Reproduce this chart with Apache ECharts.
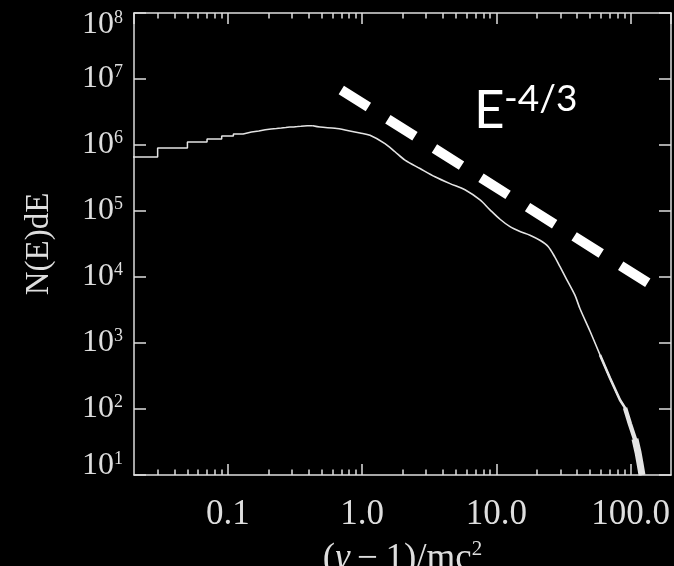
<!DOCTYPE html>
<html><head><meta charset="utf-8">
<script src="https://cdn.jsdelivr.net/npm/echarts@6/dist/echarts.min.js"></script>
<style>html,body{margin:0;padding:0;background:#000;}#c{width:674px;height:566px;}</style>
</head><body><div id="c"></div>
<script>
// ---- data ----
// low-energy histogram: bin left edges (last entry closes the final bin) and counts
const histEdges  = [0.01, 0.03, 0.05, 0.07, 0.09, 0.11, 0.13, 0.15, 0.17, 0.19, 0.21, 0.23, 0.25, 0.27, 0.29, 0.31, 0.33, 0.35, 0.37, 0.39, 0.41, 0.43];
const histValues = [6.6e5, 9.0e5, 1.11e6, 1.23e6, 1.37e6, 1.47e6, 1.57e6, 1.63e6, 1.70e6, 1.75e6, 1.78e6, 1.81e6, 1.84e6, 1.87e6, 1.88e6, 1.90e6, 1.92e6, 1.94e6, 1.95e6, 1.96e6, 1.96e6, 1.96e6];
// rest of the spectrum
const specX = [0.43, 0.486, 0.628, 0.746, 0.965, 1.145, 1.48, 1.758, 2.087, 2.70, 3.49, 4.52, 5.84, 7.56, 8.97, 10.65, 12.64, 15.0, 17.8, 21.1, 24.3, 27.3, 29.8, 33.6, 38.5, 42.0, 49.8, 59.2, 70.2, 83.4, 90.9, 99.0, 107.8, 113.6, 117.5, 121.6];
const specY = [1.96e6, 1.87e6, 1.79e6, 1.69e6, 1.52e6, 1.40e6, 1.05e6, 7.9e5, 5.9e5, 4.4e5, 3.3e5, 2.6e5, 2.1e5, 1.47e5, 1.04e5, 7.5e4, 5.8e4, 4.9e4, 4.3e4, 3.6e4, 2.9e4, 2.0e4, 1.43e4, 9.0e3, 5.3e3, 3.3e3, 1.52e3, 660, 295, 137, 104, 59, 35, 22, 15, 10];
// power-law guide  E^-4/3
const guideX = [0.7, 152];
const guideY = [6.8e6, 7.0e3];
// ticks
const xMajorTicks = [0.1, 1, 10, 100];
const xTickLabels = ['0.1', '1.0', '10.0', '100.0'];
const xMinorTicks = [0.03, 0.04, 0.05, 0.06, 0.07, 0.08, 0.09, 0.2, 0.3, 0.4, 0.5, 0.6, 0.7, 0.8, 0.9, 2, 3, 4, 5, 6, 7, 8, 9, 20, 30, 40, 50, 60, 70, 80, 90];
const yTickValues = [10, 100, 1e3, 1e4, 1e5, 1e6, 1e7, 1e8];
const yTickExps = ['1', '2', '3', '4', '5', '6', '7', '8'];
const xTitle = ['(', 'γ', '\u2009−\u20091)/mc', '2'];
const yTitle = 'N(E)dE';
const guideText = ['E', '-4/3'];

// ---- styling ----
const axisColor = '#dedede';
const curveColor = '#e4e4e4';
const serif = '"Liberation Serif", "Times New Roman", serif';
const sans = 'Lato, "Open Sans", sans-serif';
const axLine = {show: true, lineStyle: {color: axisColor, width: 1.5}};
const majTick = len => ({show: true, inside: true, length: len, lineStyle: {color: axisColor, width: 1.5}});

function near(a, b) { return Math.abs(Math.log10(a) - Math.log10(b)) < 1e-6; }

const xBase = {type: 'log', logBase: 10, min: 0.02, max: 200, splitNumber: 4, splitLine: {show: false}};
const yBase = {type: 'log', logBase: 10, min: 10, max: 1e8, splitNumber: 7, splitLine: {show: false}};

const ySup = {fontFamily: serif, fontSize: 18, color: axisColor, verticalAlign: 'middle', padding: [0, 0, 14, 0]};
const yBig = {fontFamily: serif, fontSize: 32, color: axisColor, verticalAlign: 'middle'};

const chart = echarts.init(document.getElementById('c'), null, {renderer: 'canvas'});
const spec = specX.map((x, i) => [x, specY[i]]);
const option = {
  backgroundColor: '#000',
  animation: false,
  grid: {left: 134, top: 13, right: 3, bottom: 91, containLabel: false, outerBoundsMode: 'none'},
  xAxis: [
    Object.assign({}, xBase, {
      position: 'bottom', axisLine: axLine, axisTick: majTick(11),
      axisLabel: {
        show: true, showMinLabel: false, showMaxLabel: false, margin: 22,
        color: axisColor, fontFamily: serif, fontSize: 35, lineHeight: 35,
        formatter: v => { const i = xMajorTicks.findIndex(t => near(t, v)); return i >= 0 ? xTickLabels[i] : ''; }
      },
      name: '{n|' + xTitle[0] + '}{i|' + xTitle[1] + '}{n|' + xTitle[2] + '}{s|' + xTitle[3] + '}',
      nameLocation: 'middle', nameGap: 64,
      nameTextStyle: {
        rich: {
          n: {fontFamily: serif, fontSize: 37, color: axisColor, lineHeight: 40},
          i: {fontFamily: serif, fontStyle: 'italic', fontSize: 37, color: axisColor, lineHeight: 40},
          s: {fontFamily: serif, fontSize: 21, color: axisColor, lineHeight: 40, verticalAlign: 'top'}
        }
      }
    }),
    Object.assign({}, xBase, {
      position: 'bottom', axisLine: {show: false},
      axisTick: Object.assign(majTick(5.5), {customValues: xMinorTicks}),
      axisLabel: {show: false}
    }),
    Object.assign({}, xBase, {
      position: 'top', axisLine: axLine, axisTick: majTick(11), axisLabel: {show: false}
    }),
    Object.assign({}, xBase, {
      position: 'top', axisLine: {show: false},
      axisTick: Object.assign(majTick(5.5), {customValues: xMinorTicks}),
      axisLabel: {show: false}
    })
  ],
  yAxis: [
    Object.assign({}, yBase, {
      position: 'left', axisLine: axLine, axisTick: majTick(12),
      axisLabel: {
        show: true, margin: 11,
        verticalAlignMaxLabel: 'top', verticalAlignMinLabel: 'bottom',
        formatter: v => {
          const i = yTickValues.findIndex(t => near(t, v));
          if (i < 0) return '';
          const sfx = i === yTickValues.length - 1 ? 'T' : (i === 0 ? 'B' : '');
          return '{b' + sfx + '|10}{s' + sfx + '|' + yTickExps[i] + '}';
        },
        rich: {
          b: Object.assign({}, yBig, {lineHeight: 32}),
          s: Object.assign({}, ySup, {lineHeight: 32}),
          bT: Object.assign({}, yBig, {lineHeight: 24}),
          sT: Object.assign({}, ySup, {lineHeight: 24}),
          bB: Object.assign({}, yBig, {lineHeight: 18}),
          sB: Object.assign({}, ySup, {lineHeight: 18})
        }
      },
      name: yTitle, nameLocation: 'middle', nameGap: 78, nameRotate: 90,
      nameTextStyle: {fontFamily: serif, fontSize: 33, color: axisColor}
    }),
    Object.assign({}, yBase, {
      position: 'right', axisLine: axLine, axisTick: majTick(12), axisLabel: {show: false}
    })
  ],
  graphic: [
    {type: 'text', left: 474, top: 84, z: 100, style: {text: guideText[0], font: '53px ' + sans, fill: '#ffffff'}},
    {type: 'text', left: 504, top: 81, z: 100, style: {text: guideText[1], font: '37px ' + sans, fill: '#ffffff'}}
  ],
  series: [
    {
      name: 'hist', type: 'line', step: 'end', symbol: 'none', xAxisIndex: 0, yAxisIndex: 0,
      data: histEdges.map((x, i) => [x, histValues[i]]),
      lineStyle: {color: curveColor, width: 1.5}
    },
    {
      name: 'spectrum', type: 'line', symbol: 'none', xAxisIndex: 0, yAxisIndex: 0, smooth: 0.3,
      data: spec,
      lineStyle: {color: curveColor, width: 1.6}
    },
    {
      name: 'tail1', type: 'line', symbol: 'none', xAxisIndex: 0, yAxisIndex: 0,
      data: spec.slice(27),
      lineStyle: {color: curveColor, width: 2.6}
    },
    {
      name: 'tail2', type: 'line', symbol: 'none', xAxisIndex: 0, yAxisIndex: 0,
      data: spec.slice(30),
      lineStyle: {color: curveColor, width: 4.5}
    },
    {
      name: 'tail3', type: 'line', symbol: 'none', xAxisIndex: 0, yAxisIndex: 0,
      data: spec.slice(32),
      lineStyle: {color: curveColor, width: 7}
    },
    {
      name: 'guide', type: 'line', symbol: 'none', xAxisIndex: 0, yAxisIndex: 0, z: 5,
      data: guideX.map((x, i) => [x, guideY[i]]),
      lineStyle: {color: '#ffffff', width: 10, type: [32, 23], cap: 'butt'}
    }
  ]
};
chart.setOption(option);
</script>
</body></html>
